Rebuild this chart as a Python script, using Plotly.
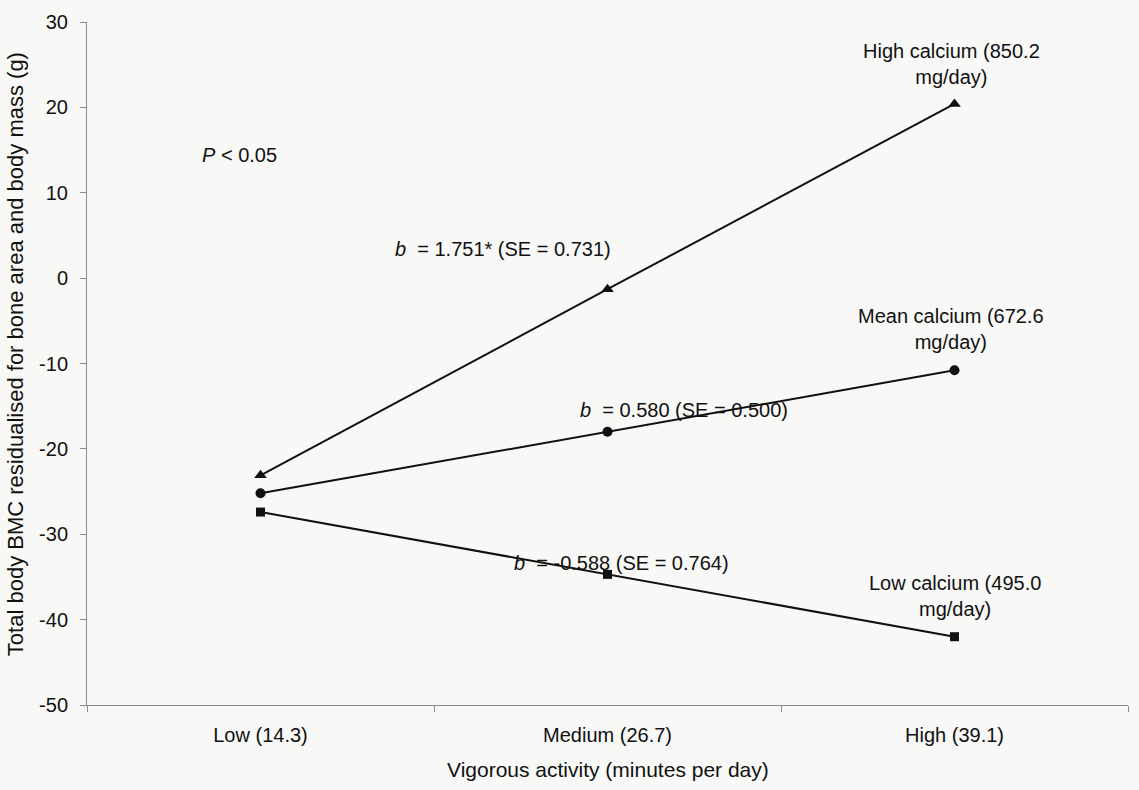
import plotly.graph_objects as go

# Vigorous activity groups (mean minutes per day)
activity = ["Low (14.3)", "Medium (26.7)", "High (39.1)"]

# Residualised total body BMC (g) at each activity level, per calcium intake group
high_calcium = [-23.1, -1.3, 20.4]
mean_calcium = [-25.2, -18.0, -10.8]
low_calcium = [-27.4, -34.7, -42.0]

y_ticks = [30, 20, 10, 0, -10, -20, -30, -40, -50]
y_tick_text = ["30", "20", "10", "0", "-10", "-20", "-30", "-40", "-50"]

FONT = "Liberation Sans, Arial, sans-serif"
INK = "#111111"
AXIS = "#8a8a8a"

fig = go.Figure()

series = [
    ("High calcium", high_calcium, "triangle-up", 11),
    ("Mean calcium", mean_calcium, "circle", 10),
    ("Low calcium", low_calcium, "square", 9),
]
for name, vals, sym, size in series:
    fig.add_trace(go.Scatter(
        x=activity, y=vals, name=name, mode="lines+markers",
        line=dict(color=INK, width=2),
        marker=dict(symbol=sym, size=size, color=INK),
        showlegend=False,
    ))

def note(text, x, y):
    fig.add_annotation(x=x, y=y, xref="x", yref="y", text=text,
                       showarrow=False, font=dict(family=FONT, size=20, color=INK),
                       align="center")

note("<i>P</i> < 0.05", -0.06, 14.4)
note("<i>b</i>  = 1.751* (SE = 0.731)", 0.70, 3.4)
note("<i>b</i>  = 0.580 (SE = 0.500)", 1.22, -15.5)
note("<i>b</i>  = -0.588 (SE = 0.764)", 1.04, -33.4)
note("High calcium (850.2<br>mg/day)", 1.99, 25.1)
note("Mean calcium (672.6<br>mg/day)", 1.99, -6.0)
note("Low calcium (495.0<br>mg/day)", 2.0, -37.2)

# Axis titles
fig.add_annotation(text="Vigorous activity (minutes per day)",
                   xref="paper", yref="paper", x=0.5, y=-0.095,
                   xanchor="center", yanchor="middle", showarrow=False,
                   font=dict(family=FONT, size=21, color=INK))
fig.add_annotation(text="Total body BMC residualised for bone area and body mass (g)",
                   xref="paper", yref="paper", x=-0.068, y=0.514,
                   xanchor="center", yanchor="middle", textangle=-90,
                   showarrow=False, font=dict(family=FONT, size=22, color=INK))

fig.update_layout(
    width=1139, height=790,
    margin=dict(l=87, r=11, t=22, b=85),
    paper_bgcolor="#f8f8f6", plot_bgcolor="#f8f8f6",
    font=dict(family=FONT, size=20, color=INK),
    xaxis=dict(
        type="category", range=[-0.5, 2.5],
        showline=True, linecolor=AXIS, linewidth=1,
        ticks="outside", tickson="boundaries", ticklen=6, tickcolor=AXIS,
        ticklabelstandoff=12,
        showgrid=False, zeroline=False,
        tickfont=dict(size=20),
    ),
    yaxis=dict(
        range=[-50, 30], tickvals=y_ticks, ticktext=y_tick_text,
        showline=True, linecolor=AXIS, linewidth=1,
        ticks="outside", ticklen=6, tickcolor=AXIS,
        ticklabelstandoff=8,
        showgrid=False, zeroline=False,
        tickfont=dict(size=20),
    ),
)

fig.write_html("out.html")
